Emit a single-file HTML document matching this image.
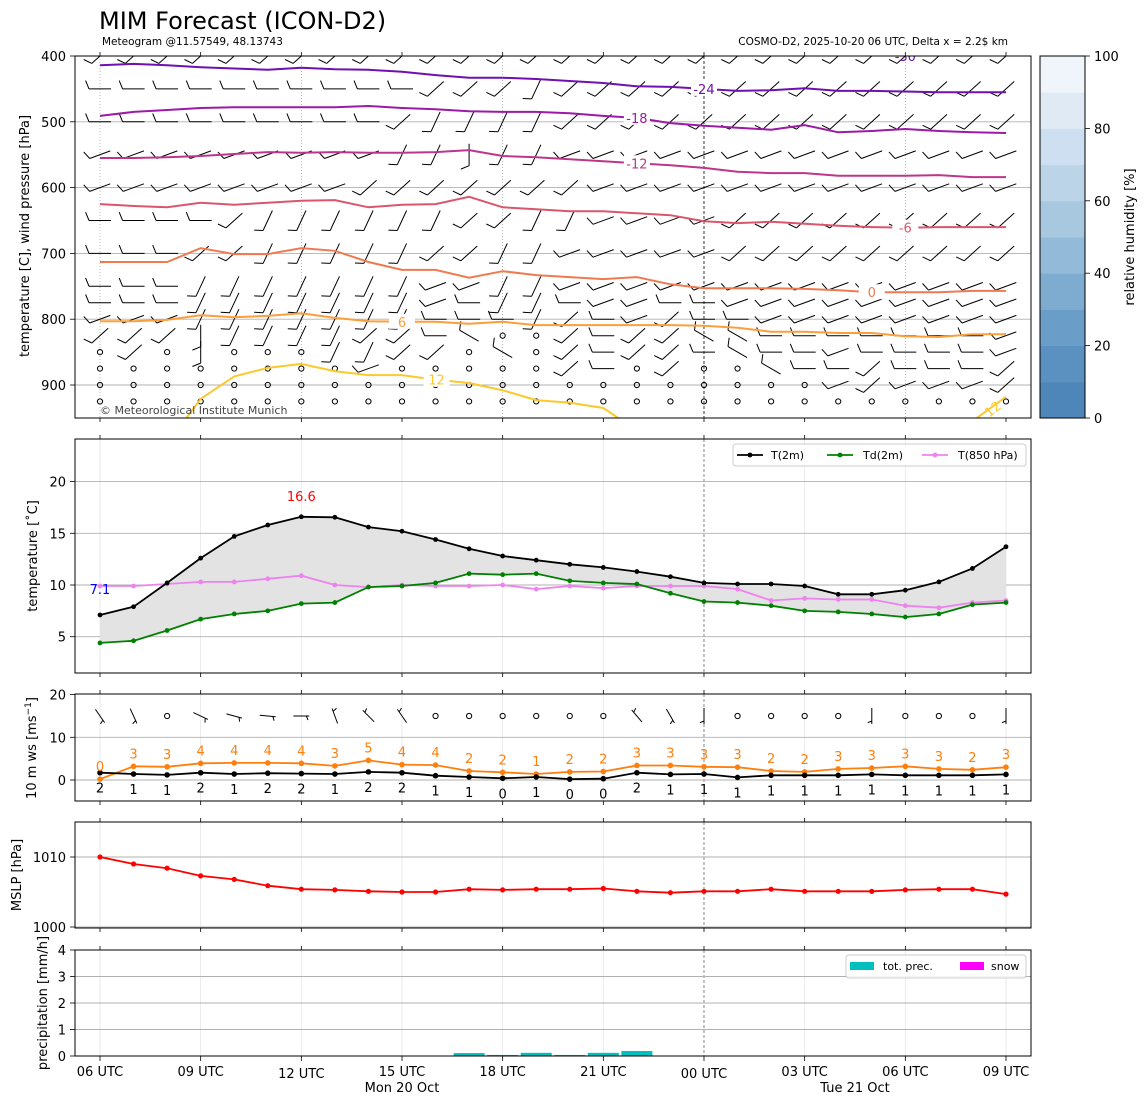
<!DOCTYPE html>
<html><head><meta charset="utf-8"><title>MIM Forecast (ICON-D2)</title>
<style>
html,body{margin:0;padding:0;background:#fff;}
svg{display:block;font-family:"DejaVu Sans","Liberation Sans",sans-serif;}
</style></head>
<body>
<svg id="chart" width="1148" height="1105" viewBox="0 0 1148 1105" xmlns="http://www.w3.org/2000/svg">
<defs>
<clipPath id="clip1"><rect x="75" y="56" width="956" height="362"/></clipPath>
<clipPath id="clip2"><rect x="75" y="439" width="956" height="234"/></clipPath>
<clipPath id="clip3"><rect x="75" y="694" width="956" height="107"/></clipPath>
<clipPath id="clip4"><rect x="75" y="822" width="956" height="106"/></clipPath>
<clipPath id="clip5"><rect x="75" y="950" width="956" height="106"/></clipPath>
</defs>
<text x="99" y="29" font-size="24" fill="#000">MIM Forecast (ICON-D2)</text>
<text x="102" y="45" font-size="10.5" fill="#000">Meteogram @11.57549, 48.13743</text>
<text x="1008" y="45" font-size="10.5" fill="#000" text-anchor="end">COSMO-D2, 2025-10-20 06 UTC, Delta x = 2.2$ km</text>
<g id="layer"></g>
</svg>
<script>
// ---------- data ----------
const hours = [0,1,2,3,4,5,6,7,8,9,10,11,12,13,14,15,16,17,18,19,20,21,22,23,24,25,26,27];
const xTickHours = [0,3,6,9,12,15,18,21,24,27];
const xTickLabels = ["06 UTC","09 UTC","12 UTC","15 UTC","18 UTC","21 UTC","00 UTC","03 UTC","06 UTC","09 UTC"];

// isotherms (pressure [hPa] of each isotherm per hour)
const isoLevels = [-24,-18,-12,-6,0,6,12];
const iso_m24 = [414,412,414,417,419,421,418,420,421,424,429,433,433,435,438,441,446,447,450,453,452,449,453,453,454,455,455,455];
const iso_m18 = [491,485,482,479,478,478,478,478,476,479,481,484,485,485,487,491,494,502,506,509,512,505,516,514,511,514,516,517];
const iso_m12 = [555,555,554,552,549,546,547,546,547,547,546,543,552,554,557,560,563,566,570,576,578,578,582,582,582,581,584,584];
const iso_m6  = [625,628,630,623,626,623,620,619,630,626,625,614,630,633,636,636,639,642,651,654,652,655,658,660,661,660,660,660];
const iso_0   = [713,713,713,692,701,701,692,696,713,725,725,737,727,733,736,739,736,747,753,753,753,754,756,759,759,759,757,757];
const iso_6   = [803,803,801,794,797,795,791,798,803,804,804,807,804,809,809,809,809,809,810,813,819,819,821,821,826,827,823,823];
const iso_12a = [null,null,990,921,887,874,868,879,885,885,892,897,908,923,927,935,969,null,null,null,null,null,null,null,null,null,null,null];
const iso_12b = [null,null,null,null,null,null,null,null,null,null,null,null,null,null,null,null,null,null,null,null,null,null,null,null,null,null,955,918];

// wind barbs aloft: levels and direction codes per hour (o = calm)
const barbLevels = [400,450,500,550,600,650,700,750,775,800,825,850,875,900,925];
const barbRows = [
 "cccccccccccccccccccccccccccc",
 "aaaaaaaaaacccdcccccccccccccc",
 "aaaaaaaaacddddcccccccccccccc",
 "bbbbbbbbbddeddbbbbbbbbbbbbbb",
 "bbbbbbbbcccccccbbbbbbbbbbbbb",
 "aaaacddddddccddbbbbccccccccc",
 "aaaccdddddccddbbbbbccccccccc",
 "aaadddddddbbddbbbbbbbbbbbbbb",
 "aaadddddddbaddabbaabbbbbbbbb",
 "bbbdddddddaaadcabcaabbbbbbbb",
 "ccceddddccanoocaccnnaaaaaaab",
 "ocoeoooddcconocaccanaabaaaab",
 "oooooooobooooocaocoonaacaaac",
 "oooooooooooooooooooooobcbbbc",
 "oooooooooooooooooooooooooooo"];
const dirCodes = {a:270,b:250,c:228,d:205,e:180,n:300};

// panel 2: temperatures
const t2m  = [7.1,7.9,10.2,12.6,14.7,15.8,16.6,16.55,15.6,15.2,14.4,13.5,12.8,12.4,12.0,11.7,11.3,10.8,10.2,10.1,10.1,9.9,9.1,9.1,9.5,10.3,11.6,13.7];
const td2m = [4.4,4.6,5.6,6.7,7.2,7.5,8.2,8.3,9.8,9.9,10.2,11.1,11.0,11.1,10.4,10.2,10.1,9.2,8.4,8.3,8.0,7.5,7.4,7.2,6.9,7.2,8.1,8.3];
const t850 = [9.9,9.9,10.1,10.3,10.3,10.6,10.9,10.0,9.8,10.0,9.9,9.9,10.0,9.6,9.9,9.7,9.9,9.9,9.9,9.6,8.5,8.7,8.6,8.6,8.0,7.8,8.3,8.5];
const tTicks = [5,10,15,20];

// panel 3: 10 m wind
const gust10 = [0.2,3.2,3.1,3.9,4.0,4.0,3.9,3.3,4.6,3.6,3.5,2.1,1.8,1.4,1.9,2.0,3.4,3.4,3.1,3.0,2.1,1.9,2.6,2.8,3.2,2.6,2.4,3.0];
const ws10 = [1.7,1.4,1.2,1.7,1.4,1.6,1.5,1.4,1.9,1.7,1.0,0.7,0.4,0.7,0.2,0.3,1.7,1.3,1.4,0.6,1.1,1.1,1.1,1.3,1.1,1.1,1.1,1.3];
const wd10 = [145,155,null,115,105,95,90,340,315,325,null,null,null,null,null,null,320,150,180,null,null,null,null,180,null,null,null,180];
const wsTicks = [0,10,20];

// panel 4: MSLP
const mslp = [1010.0,1009.0,1008.4,1007.3,1006.8,1005.9,1005.4,1005.3,1005.1,1005.0,1005.0,1005.4,1005.3,1005.4,1005.4,1005.5,1005.1,1004.9,1005.1,1005.1,1005.4,1005.1,1005.1,1005.1,1005.3,1005.4,1005.4,1004.7];
const pTicks = [1000,1010];

// panel 5: precipitation
const precip = [0,0,0,0,0,0,0,0,0,0,0,0.11,0.04,0.12,0.04,0.12,0.19,0,0,0,0,0,0,0,0,0,0,0];
const snow = [0,0,0,0,0,0,0,0,0,0,0,0,0,0,0,0,0,0,0,0,0,0,0,0,0,0,0,0];
const prTicks = [0,1,2,3,4];

// colorbar
const rhBounds = [0,10,20,30,40,50,60,70,80,90,100];
const rhColors = ["#4f86b9","#5a91c1","#6a9dc8","#7eabd0","#93bad8","#a8c8e0","#bbd4e8","#cddff0","#dfeaf5","#eff5fb"];
const rhTicks = [0,20,40,60,80,100];
const pLevelTicks = [400,500,600,700,800,900];

// ---------- scales ----------
const xs = h => 100 + h*33.555;
const yp = p => 56 + (p-400)*0.658;
const yt = t => 585 - (t-10)*10.34;
const yw = v => 780 - v*4.27;
const ym = p => 857 - (p-1010)*7;
const yr = r => 1056 - r*26.5;
const yc = v => 418 - v*3.62;

const NS = "http://www.w3.org/2000/svg";
const root = document.getElementById('layer');
function mk(tag, attrs, parent){
  const e = document.createElementNS(NS, tag);
  for (const k in attrs) e.setAttribute(k, attrs[k]);
  (parent||root).appendChild(e);
  return e;
}
function txt(x,y,s,size,extra,parent){
  const e = mk('text', Object.assign({x:x,y:y,'font-size':size}, extra||{}), parent);
  e.textContent = s;
  return e;
}

const panels = [
  {id:'upper-air', top:56, h:362, clip:'clip1'},
  {id:'temperature', top:439, h:234, clip:'clip2'},
  {id:'wind', top:694, h:107, clip:'clip3'},
  {id:'mslp', top:822, h:106, clip:'clip4'},
  {id:'precip', top:950, h:106, clip:'clip5'}
];

// vertical grid lines
panels.forEach((p,i)=>{
  const g = mk('g',{});
  
  
  xTickHours.forEach(h=>{
    if (i===0) {
      if (h%6!==0) return;
      const dark = (h===18);
      const l = mk('line',{x1:xs(h),x2:xs(h),y1:p.top,y2:p.top+p.h,stroke:dark?'#000':'#999','stroke-width':dark?0.8:0.7,'stroke-dasharray':dark?'3,2':'1,2'},g);
      
      
    } else {
      const dark = (h===18);
      const l = mk('line',{x1:xs(h),x2:xs(h),y1:p.top,y2:p.top+p.h,stroke:dark?'#555':'#e6e6e6','stroke-width':dark?0.7:0.8,'stroke-dasharray':dark?'3,2':'none'},g);
      
      
    }
  });
});

function hgrid(vals, scale, g){
  vals.forEach(v=>{
    const y = scale(v);
    const l = mk('line',{x1:75,x2:1031,y1:y,y2:y,stroke:'#b0b0b0','stroke-width':0.9},g);
    
    
  });
}
function yticks(vals, scale, g, name){
  vals.forEach(v=>{
    const y = scale(v);
    mk('line',{x1:70,x2:75,y1:y,y2:y,stroke:'#000','stroke-width':0.8},g);
    const t = txt(66,y+5,String(v),13,{'text-anchor':'end',fill:'#000'},g);
    
    
  });
}
function xticks(top, bottom, g){
  xTickHours.forEach(h=>{
    mk('line',{x1:xs(h),x2:xs(h),y1:bottom,y2:bottom+4,stroke:'#000','stroke-width':0.8},g);
  });
}
function poly(vals, xsF, ys, attrs, g){
  let d=''; let pen=false;
  vals.forEach((v,i)=>{
    if (v===null){pen=false;return;}
    d += (pen?'L':'M') + xsF(i).toFixed(1)+','+ys(v).toFixed(1)+' ';
    pen=true;
  });
  return mk('path', Object.assign({d:d,fill:'none'},attrs), g);
}

// ---------- panel 1 ----------
const g1 = mk('g',{'clip-path':'url(#clip1)'});


hgrid([500,600,700,800,900], yp, g1);

function barb(g, x, y, dirFrom, full, half, len){
  const th = dirFrom*Math.PI/180;
  const vx = Math.sin(th), vy = -Math.cos(th);
  const tx = x - vx*len/2, ty = y - vy*len/2;
  const fx = x + vx*len/2, fy = y + vy*len/2;
  let d = 'M'+tx.toFixed(1)+','+ty.toFixed(1)+'L'+fx.toFixed(1)+','+fy.toFixed(1);
  const px = -vy, py = vx;
  let pos = 0;
  for (let k=0;k<full;k++){
    const bx = fx - vx*pos, by = fy - vy*pos;
    d += 'M'+bx.toFixed(1)+','+by.toFixed(1)+'l'+((px*0.92+vx*0.38)*9).toFixed(1)+','+((py*0.92+vy*0.38)*9).toFixed(1);
    pos += 4;
  }
  if (half){
    if (pos===0) pos = 3;
    const bx = fx - vx*pos, by = fy - vy*pos;
    d += 'M'+bx.toFixed(1)+','+by.toFixed(1)+'l'+((px*0.92+vx*0.38)*4.5).toFixed(1)+','+((py*0.92+vy*0.38)*4.5).toFixed(1);
  }
  const p = mk('path',{d:d,stroke:'#000','stroke-width':1,fill:'none'},g);
  
  
  return p;
}
function calm(g,x,y){
  const c = mk('circle',{cx:x,cy:y,r:2.6,fill:'none',stroke:'#000','stroke-width':1},g);
  
  
}
const gb = mk('g',{},g1);


barbLevels.forEach((lev,li)=>{
  const row = barbRows[li];
  hours.forEach(h=>{
    const c = row[h];
    const x = xs(h), y = yp(lev);
    if (c==='o') calm(gb,x,y);
    else barb(gb,x,y,dirCodes[c],1,0,22);
  });
});

const isoData = [iso_m24,iso_m18,iso_m12,iso_m6,iso_0,iso_6,iso_12a];
const isoColors = ["#7010b0","#9c1aa6","#bd3689","#d9566b","#ef7a4f","#fb9f3a","#fbc92c"];
const isoNames = ["isotherm-minus-24","isotherm-minus-18","isotherm-minus-12","isotherm-minus-6","isotherm-0","isotherm-6","isotherm-12"];
isoData.forEach((arr,i)=>{
  const p = poly(arr, xs, yp, {stroke:isoColors[i],'stroke-width':2}, g1);
  
  
});
{
  const p = poly(iso_12b, xs, yp, {stroke:isoColors[6],'stroke-width':2}, g1);
  
  
}
// contour labels
const isoLabelHours = [18,16,16,24,23,9,10];
isoLevels.forEach((lev,i)=>{
  const h = isoLabelHours[i];
  const x = xs(h)+ (i===6?1:0), y = yp(isoData[i][h]);
  mk('rect',{x:x-13,y:y-8,width:26,height:15,fill:'#fff'},g1);
  const t = txt(x, y+5, String(lev), 13, {'text-anchor':'middle',fill:isoColors[i]}, g1);
  
  
});
{
  const x = xs(26.6), y = yp(936);
  const t = txt(x, y+5, '12', 13, {'text-anchor':'middle',fill:isoColors[6],transform:'rotate(-38 '+x+' '+y+')'}, g1);
  
  
  const t2 = txt(xs(24), 61, '-30', 13, {'text-anchor':'middle',fill:isoColors[0]}, g1);
  
  
}
{
  const t = txt(100, 414, '\u00a9 Meteorological Institute Munich', 11, {fill:'#444'}, g1);
  
  
}
const ax1 = mk('g',{});


yticks(pLevelTicks, yp, ax1, 'pressure');
xticks(56,418,ax1);
xTickHours.forEach(h=>mk('line',{x1:xs(h),x2:xs(h),y1:56,y2:52,stroke:'#000','stroke-width':0.8},ax1));
mk('rect',{x:75,y:56,width:956,height:362,fill:'none',stroke:'#000','stroke-width':1},ax1);
{
  const t = txt(0,0,'temperature [C], wind pressure [hPa]',13,{'text-anchor':'middle',transform:'translate(29 236) rotate(-90)'},ax1);
  
  
}

// colorbar
const gcb = mk('g',{});


rhColors.forEach((c,i)=>{
  const y1 = yc(rhBounds[i+1]), y0 = yc(rhBounds[i]);
  const r = mk('rect',{x:1040,y:y1,width:45,height:y0-y1+0.5,fill:c},gcb);
  
  
});
mk('rect',{x:1040,y:56,width:45,height:362,fill:'none',stroke:'#000','stroke-width':1},gcb);
rhTicks.forEach(v=>{
  const y = yc(v);
  mk('line',{x1:1085,x2:1090,y1:y,y2:y,stroke:'#000','stroke-width':0.8},gcb);
  const t = txt(1094,y+5,String(v),13,{fill:'#000'},gcb);
  
  
});
{
  const t = txt(0,0,'relative humidity [%]',13,{'text-anchor':'middle',transform:'translate(1134 237) rotate(-90)'},gcb);
  
  
}

// ---------- panel 2 ----------
const g2 = mk('g',{'clip-path':'url(#clip2)'});


hgrid(tTicks, yt, g2);
{
  let d = '';
  t2m.forEach((v,i)=>{ d += (i?'L':'M')+xs(i).toFixed(1)+','+yt(v).toFixed(1); });
  for (let i=td2m.length-1;i>=0;i--) d += 'L'+xs(i).toFixed(1)+','+yt(td2m[i]).toFixed(1);
  const f = mk('path',{d:d+'Z',fill:'#e3e3e3',stroke:'none'},g2);
  
  
}
function series(arr, scale, color, name, g, r){
  const s = mk('g',{},g);
  
  
  poly(arr, xs, scale, {stroke:color,'stroke-width':1.8}, s);
  arr.forEach((v,i)=>{
    if (v===null) return;
    const c = mk('circle',{cx:xs(i),cy:scale(v),r:r||2.4,fill:color},s);
    
    
  });
  return s;
}
series(t850, yt, '#ee82ee', 't850-series', g2);
series(td2m, yt, '#008000', 'td2m-series', g2);
series(t2m, yt, '#000000', 't2m-series', g2);
{
  let mi = 0; t2m.forEach((v,i)=>{ if (v>t2m[mi]) mi=i; });
  const t = txt(xs(mi), yt(t2m[mi])-16, t2m[mi].toFixed(1), 13, {'text-anchor':'middle',fill:'#ff0000'}, g2);
  
  
  const t2 = txt(xs(0), yt(t2m[0])-21, t2m[0].toFixed(1), 13, {'text-anchor':'middle',fill:'#0000ff'}, g2);
  
  
}
const ax2 = mk('g',{});


yticks(tTicks, yt, ax2, 'temperature');
xticks(439,673,ax2);
xTickHours.forEach(h=>mk('line',{x1:xs(h),x2:xs(h),y1:439,y2:435,stroke:'#000','stroke-width':0.8},ax2));
mk('rect',{x:75,y:439,width:956,height:234,fill:'none',stroke:'#000','stroke-width':1},ax2);
{
  const t = txt(0,0,'temperature [\u02daC]',13,{'text-anchor':'middle',transform:'translate(37 556) rotate(-90)'},ax2);
  
  
}
// legend
{
  const lg = mk('g',{});
  
  
  mk('rect',{x:733,y:444,width:293,height:22,rx:3,fill:'#fff','fill-opacity':0.85,stroke:'#ccc'},lg);
  const items = [['T(2m)','#000',737,771],['Td(2m)','#008000',827,863],['T(850 hPa)','#ee82ee',922,958]];
  items.forEach(it=>{
    const e = mk('g',{},lg);
    
    
    mk('line',{x1:it[2],x2:it[2]+26,y1:455,y2:455,stroke:it[1],'stroke-width':1.8},e);
    mk('circle',{cx:it[2]+13,cy:455,r:2.4,fill:it[1]},e);
    txt(it[3],459,it[0],11,{fill:'#000'},e);
  });
}

// ---------- panel 3 ----------
const g3 = mk('g',{'clip-path':'url(#clip3)'});


hgrid([0,10], yw, g3);
series(gust10, yw, '#ff7f0e', 'gust-series', g3, 2.8);
series(ws10, yw, '#000000', 'wind-speed-series', g3, 2.8);
gust10.forEach((v,i)=>{
  const t = txt(xs(i), yw(v)-8, String(Math.round(v)), 13, {'text-anchor':'middle',fill:'#ff7f0e'}, g3);
  
  
});
ws10.forEach((v,i)=>{
  const t = txt(xs(i), yw(v)+20, String(Math.round(v)), 13, {'text-anchor':'middle',fill:'#000'}, g3);
  
  
});
{
  const gs = mk('g',{},g3);
  
  
  wd10.forEach((d,i)=>{
    if (d===null) calm(gs, xs(i), 716);
    else barb(gs, xs(i), 716, d, 0, 1, 16);
  });
}
const ax3 = mk('g',{});


yticks(wsTicks, yw, ax3, 'wind-speed');
xticks(694,801,ax3);
xTickHours.forEach(h=>mk('line',{x1:xs(h),x2:xs(h),y1:694,y2:690,stroke:'#000','stroke-width':0.8},ax3));
mk('rect',{x:75,y:694,width:956,height:107,fill:'none',stroke:'#000','stroke-width':1},ax3);
{
  const t = mk('text',{'font-size':13,'text-anchor':'middle',transform:'translate(36 748) rotate(-90)'},ax3);
  t.innerHTML = '10 m ws [ms<tspan baseline-shift="super" font-size="9">\u22121</tspan>]';
  
  
}

// ---------- panel 4 ----------
const g4 = mk('g',{'clip-path':'url(#clip4)'});


hgrid(pTicks, ym, g4);
series(mslp, ym, '#ff0000', 'mslp-series', g4, 2.6);
const ax4 = mk('g',{});


yticks(pTicks, ym, ax4, 'mslp');
xticks(822,928,ax4);
xTickHours.forEach(h=>mk('line',{x1:xs(h),x2:xs(h),y1:822,y2:818,stroke:'#000','stroke-width':0.8},ax4));
mk('rect',{x:75,y:822,width:956,height:106,fill:'none',stroke:'#000','stroke-width':1},ax4);
{
  const t = txt(0,0,'MSLP [hPa]',13,{'text-anchor':'middle',transform:'translate(21 875) rotate(-90)'},ax4);
  
  
}

// ---------- panel 5 ----------
const g5 = mk('g',{'clip-path':'url(#clip5)'});


hgrid([1,2,3,4], yr, g5);
precip.forEach((v,i)=>{
  if (v<=0) return;
  const b = mk('rect',{x:xs(i)-15.5,y:yr(v),width:31,height:yr(0)-yr(v),fill:'#00bfbf'},g5);
  
  
});
snow.forEach((v,i)=>{
  if (v<=0) return;
  const b = mk('rect',{x:xs(i)-15.5,y:yr(v),width:31,height:yr(0)-yr(v),fill:'#ff00ff'},g5);
  
  
});
const ax5 = mk('g',{});


yticks(prTicks, yr, ax5, 'precip');
xTickHours.forEach(h=>mk('line',{x1:xs(h),x2:xs(h),y1:950,y2:946,stroke:'#000','stroke-width':0.8},ax5));
xTickHours.forEach((h,i)=>{
  mk('line',{x1:xs(h),x2:xs(h),y1:1056,y2:1061,stroke:'#000','stroke-width':0.8},ax5);
  const low = (h===6||h===18);
  const t = txt(xs(h), low?1078:1076, xTickLabels[i], 13, {'text-anchor':'middle',fill:'#000'}, ax5);
  
  
});
{
  const t = txt(xs(9),1092,'Mon 20 Oct',13,{'text-anchor':'middle'},ax5);
  
  
  const t2 = txt(xs(22.5),1092,'Tue 21 Oct',13,{'text-anchor':'middle'},ax5);
  
  
}
mk('rect',{x:75,y:950,width:956,height:106,fill:'none',stroke:'#000','stroke-width':1},ax5);
{
  const t = txt(0,0,'precipitation [mm/h]',13,{'text-anchor':'middle',transform:'translate(47 1003) rotate(-90)'},ax5);
  
  
  const lg = mk('g',{});
  
  
  mk('rect',{x:846,y:955,width:180,height:23,rx:3,fill:'#fff','fill-opacity':0.85,stroke:'#ccc'},lg);
  const e1 = mk('g',{},lg);
  
  
  mk('rect',{x:850,y:962,width:24,height:8,fill:'#00bfbf'},e1);
  txt(883,970,'tot. prec.',11,{},e1);
  const e2 = mk('g',{},lg);
  
  
  mk('rect',{x:960,y:962,width:24,height:8,fill:'#ff00ff'},e2);
  txt(991,970,'snow',11,{},e2);
}
</script>
</body></html>
